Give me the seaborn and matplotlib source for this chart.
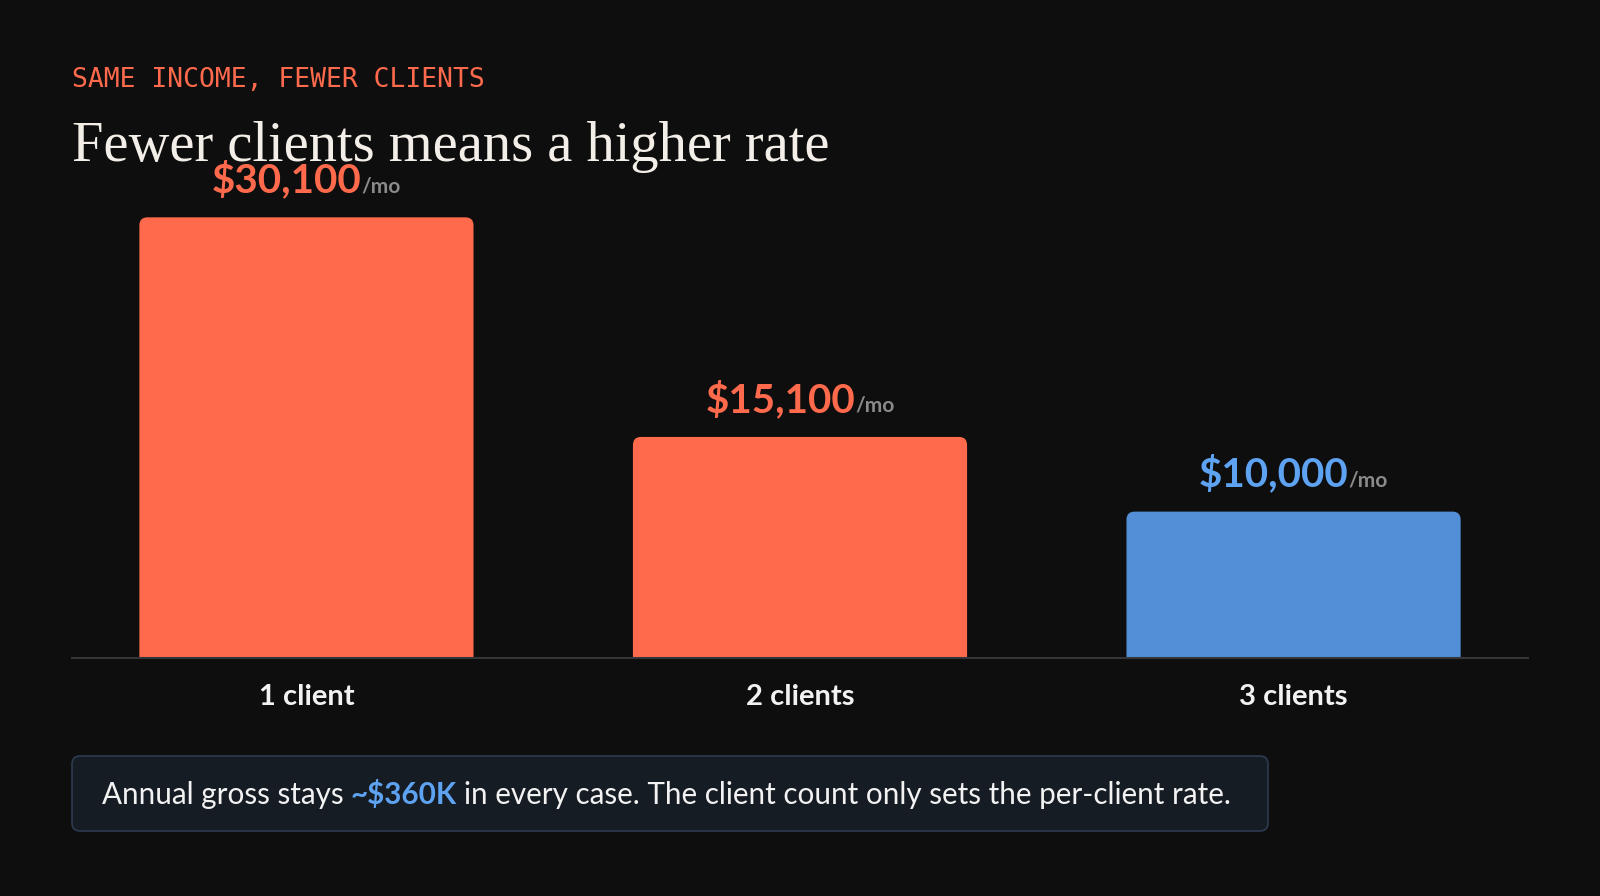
import matplotlib
matplotlib.use("Agg")
import matplotlib.pyplot as plt
import seaborn as sns
from matplotlib.patches import FancyBboxPatch
from matplotlib.transforms import ScaledTranslation

# data
categories = ["1 client", "2 clients", "3 clients"]
monthly_rate = [30100, 15100, 10000]
rate_labels = ["$30,100", "$15,100", "$10,000"]
bar_colors = ["#ff6a4c", "#ff6a4c", "#538fd7"]
label_colors = ["#ff6a4c", "#ff6a4c", "#5ea3f2"]
unit = "/mo"
kicker = "SAME INCOME, FEWER CLIENTS"
title = "Fewer clients means a higher rate"
note_parts = ["Annual gross stays", "~$360K", "in every case. The client count only sets the per-client rate."]
note_colors = ["#f2f2f2", "#5ea3f2", "#f2f2f2"]
note_weights = ["normal", "bold", "normal"]

BG = "#0e0e0e"
sns.set_theme(style="white")
plt.rcParams["font.family"] = ["Lato", "DejaVu Sans"]

fig = plt.figure(figsize=(16, 8.96), dpi=100, facecolor=BG)
ax = fig.add_axes([0.045, 0.2656, 0.91, 0.567])
ax.set_facecolor(BG)

sns.barplot(x=categories, y=monthly_rate, hue=categories, palette=bar_colors,
            width=0.677, saturation=1, legend=False, ax=ax)
ax.set_xlim(-0.475, 2.475)
ax.set_ylim(0, 34700)

# rounded tops: swap each bar for a rounded patch clipped at the baseline
x_per_px = 2.95 / 1456
y_per_px = 34700 / 508
for p in list(ax.patches):
    x, w, h = p.get_x(), p.get_width(), p.get_height()
    fc = p.get_facecolor()
    p.set_visible(False)
    r = 8 * x_per_px
    ax.add_patch(FancyBboxPatch((x, -3000), w, h + 3000,
                                boxstyle=f"round,pad=0,rounding_size={r}",
                                mutation_aspect=y_per_px / x_per_px,
                                fc=fc, ec="none", clip_on=True))

for s in ["top", "right", "left"]:
    ax.spines[s].set_visible(False)
ax.spines["bottom"].set_color("#34363a")
ax.spines["bottom"].set_linewidth(1.5)
ax.set_yticks([])
ax.tick_params(axis="x", length=0, pad=19, labelsize=21, labelcolor="#f2f2f2")
for lab in ax.get_xticklabels():
    lab.set_fontweight("bold")
ax.set_xlabel("")
ax.set_ylabel("")

renderer = fig.canvas.get_renderer()


def text_run(texts, base_trans, centered, gap=0):
    widths = [t.get_window_extent(renderer).width for t in texts]
    total = sum(widths) + gap * (len(texts) - 1)
    start = -total / 2 if centered else 0
    for t, w in zip(texts, widths):
        t.set_transform(base_trans + ScaledTranslation(start / 100, 0, fig.dpi_scale_trans))
        start += w + gap


# value labels above bars
for i, v in enumerate(monthly_rate):
    base = ax.transData + ScaledTranslation(0, 0.25, fig.dpi_scale_trans)
    big = ax.text(i, v, rate_labels[i], color=label_colors[i], fontsize=29,
                  fontweight="bold", ha="left", va="baseline")
    small = ax.text(i, v, unit, color="#8a8a8a", fontsize=15,
                    fontweight="bold", ha="left", va="baseline")
    text_run([big, small], base, centered=True)

# header
fig.text(72 / 1600, 1 - 87 / 896, kicker, color="#ff6a4c", fontsize=19,
         family="DejaVu Sans Mono", va="baseline", ha="left")
fig.text(72 / 1600, 1 - 161 / 896, title, color="#f3efe8", fontsize=40.7,
         family="Liberation Serif", va="baseline", ha="left")

# note box
fig.patches.append(FancyBboxPatch((0.72, 0.65), 11.96, 0.75,
                                  boxstyle="round,pad=0,rounding_size=0.08",
                                  transform=fig.dpi_scale_trans,
                                  fc="#161c24", ec="#2d3b4f", lw=1.2))
note_texts = [fig.text(1.02, 0.92, s, color=c, fontweight=wt, fontsize=21.3,
                       va="baseline", ha="left", transform=fig.dpi_scale_trans)
              for s, c, wt in zip(note_parts, note_colors, note_weights)]
text_run(note_texts, fig.dpi_scale_trans, centered=False, gap=7)

fig.savefig("out.png", dpi=100, facecolor=BG)
